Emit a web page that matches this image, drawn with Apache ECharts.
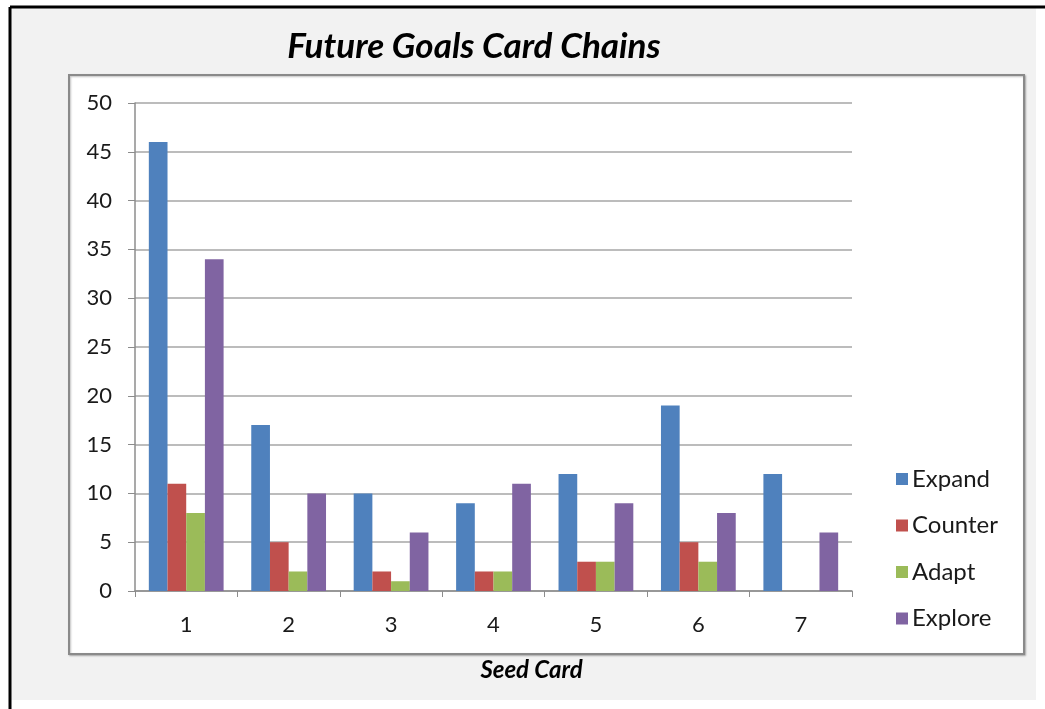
<!DOCTYPE html>
<html>
<head>
<meta charset="utf-8">
<script src="https://cdn.jsdelivr.net/npm/echarts@6/dist/echarts.min.js"></script>
<style>
html,body{margin:0;padding:0;background:#ffffff;}
#chart{width:1045px;height:709px;}
</style>
</head>
<body>
<div id="chart"></div>
<script>
const categories = ['1','2','3','4','5','6','7'];
const expand  = [46, 17, 10, 9, 12, 19, 12];
const counter = [11, 5, 2, 2, 3, 5, 0];
const adapt   = [8, 2, 1, 2, 3, 3, 0];
const explore = [34, 10, 6, 11, 9, 8, 6];
const seriesNames = ['Expand','Counter','Adapt','Explore'];
const colors = ['#4F81BD','#C0504D','#9BBB59','#8064A2'];

const chart = echarts.init(document.getElementById('chart'));
const font = 'Lato, "Open Sans", sans-serif';
const dataSets = [expand, counter, adapt, explore];

chart.setOption({
  animation: false,
  backgroundColor: '#ffffff',
  graphic: [
    {type:'rect', shape:{x:11, y:8, width:1025, height:692}, style:{fill:'#f2f2f2'}, z:-10},
    {type:'line', shape:{x1:10, y1:7, x2:1045, y2:7}, style:{stroke:'#000', lineWidth:3}, z:-5},
    {type:'line', shape:{x1:10, y1:7, x2:10, y2:709}, style:{stroke:'#000', lineWidth:3}, z:-5},
    {type:'rect', shape:{x:69, y:75, width:955, height:579}, style:{fill:'#ffffff', stroke:'#8a8a8a', lineWidth:2, shadowBlur:2, shadowColor:'rgba(0,0,0,0.25)', shadowOffsetX:1, shadowOffsetY:1}, z:-4}
  ],
  title: {
    text: 'Future Goals Card Chains',
    left: 469, top: 24, textAlign: 'center',
    textStyle: {fontFamily: font, fontSize: 35, fontWeight: 'bold', fontStyle: 'italic', color: '#000'}
  },
  legend: {
    orient: 'vertical',
    left: 891, top: 462,
    itemWidth: 12, itemHeight: 12, itemGap: 22.5,
    icon: 'rect',
    data: seriesNames,
    textStyle: {fontFamily: font, fontSize: 24, color: '#1a1a1a', padding:[0,0,0,-1]}
  },
  grid: {left: 135, top: 103, right: 193, bottom: 118, containLabel: false},
  xAxis: {
    type: 'category',
    data: categories,
    name: 'Seed Card',
    nameLocation: 'middle',
    nameGap: 67,
    nameTextStyle: {fontFamily: font, fontSize: 24, fontWeight: 'bold', fontStyle: 'italic', color: '#000', padding:[0,0,0,76]},
    axisLine: {lineStyle: {color: '#8c8c8c', width: 1.5}},
    axisTick: {show: true, length: 6, lineStyle: {color: '#8c8c8c'}},
    axisLabel: {fontFamily: font, fontSize: 22, color: '#1a1a1a', margin: 23}
  },
  yAxis: {
    type: 'value',
    min: 0, max: 50, interval: 5,
    axisLine: {show: true, lineStyle: {color: '#8c8c8c', width: 1.5}},
    axisTick: {show: true, length: 7, lineStyle: {color: '#8c8c8c'}},
    axisLabel: {fontFamily: font, fontSize: 22, color: '#1a1a1a', margin: 23},
    splitLine: {show: true, lineStyle: {color: '#a6a6a6', width: 1.5}}
  },
  series: seriesNames.map((n, i) => ({
    name: n,
    type: 'bar',
    data: dataSets[i],
    itemStyle: {color: colors[i]},
    barGap: '0%',
    barCategoryGap: '27%'
  }))
});
</script>
</body>
</html>
